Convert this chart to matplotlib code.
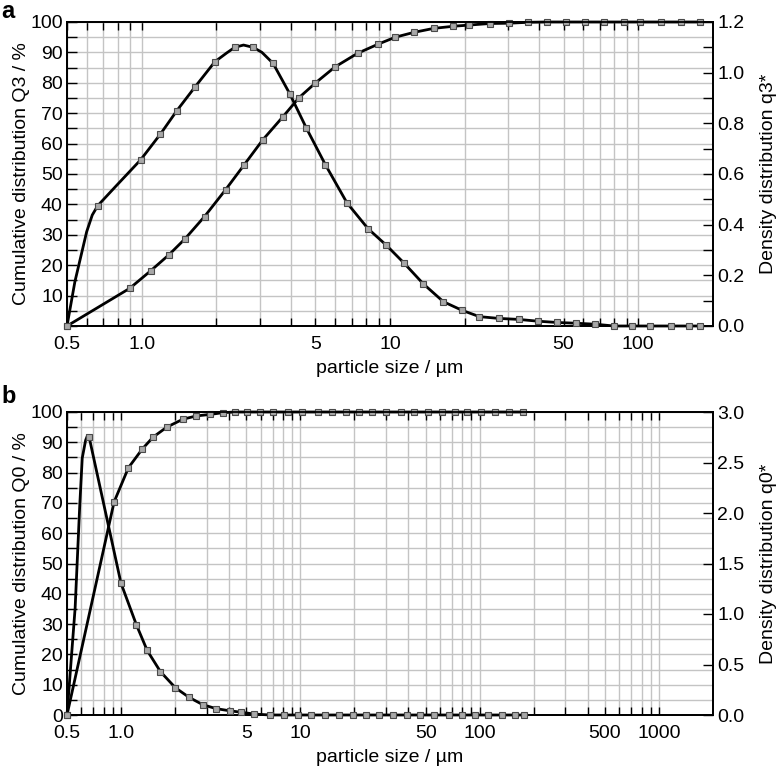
import numpy as np
import matplotlib
matplotlib.use("Agg")
import matplotlib.pyplot as plt
from matplotlib.ticker import FixedLocator, FixedFormatter, NullLocator, MultipleLocator, FormatStrFormatter

plt.rcParams['font.family'] = ['Liberation Sans', 'DejaVu Sans']

# ---------------- data ----------------
# Panel a: volume based (Q3 cumulative in %, q3* density)
a_cum_size = [0.5, 0.895, 1.088, 1.29, 1.495, 1.79, 2.18, 2.59, 3.07, 3.71, 4.3, 5.0, 6.0, 7.4,
              8.95, 10.5, 12.5, 15.0, 18.0, 20.9, 25.2, 30.1, 36.0, 42.7, 51.0, 61.3, 72.7, 87.5,
              102, 123, 148, 177]
a_Q3 = [0, 12.4, 18.2, 23.5, 28.7, 36.0, 44.9, 53.1, 61.2, 68.9, 75.1, 79.9, 85.2, 89.7,
        92.7, 95.0, 96.6, 97.9, 98.6, 99.0, 99.5, 99.6, 99.9, 100, 100, 100, 100, 100,
        100, 100, 100, 100]

a_dens_size = [0.5, 0.665, 0.99, 1.19, 1.385, 1.64, 1.97, 2.37, 2.81, 3.38, 3.95, 4.6, 5.49,
               6.71, 8.16, 9.66, 11.4, 13.6, 16.4, 19.5, 22.9, 27.4, 33.0, 39.4, 46.9, 55.9,
               67.2, 79.8, 94.6, 112, 135, 160, 177]
a_q3 = [0, 0.475, 0.656, 0.758, 0.850, 0.944, 1.043, 1.100, 1.100, 1.037, 0.916, 0.782, 0.637,
        0.486, 0.384, 0.319, 0.248, 0.167, 0.096, 0.062, 0.037, 0.030, 0.026, 0.019, 0.014, 0.011,
        0.007, 0.0, 0.0, 0.0, 0.0, 0.0, 0.0]
# extra points of the drawn curve (no marker)
a_q3_curve_size = [0.538, 0.6, 0.632, 0.78, 2.2, 2.57, 3.05]
a_q3_curve = [0.175, 0.372, 0.438, 0.548, 1.078, 1.109, 1.080]

# Panel b: number based (Q0 cumulative in %, q0* density)
b_cum_size = [0.5, 0.915, 1.10, 1.315, 1.51, 1.80, 2.21, 2.63, 3.14, 3.72, 4.34, 5.06, 5.97,
              7.05, 8.5, 10.2, 12.5, 15.0, 17.9, 21.2, 25.0, 29.9, 36.3, 42.8, 51.2, 61.3,
              72.4, 85.5, 102, 122, 146, 175]
b_Q0 = [0, 70.3, 81.6, 87.8, 91.7, 95.0, 97.6, 98.7, 99.2, 99.8, 100, 100, 100,
        100, 100, 100, 100, 100, 100, 100, 100, 100, 100, 100, 100, 100,
        100, 100, 100, 100, 100, 100]

b_dens_size = [0.5, 0.665, 1.0, 1.22, 1.40, 1.66, 2.01, 2.40, 2.86, 3.39, 4.03, 4.69, 5.55,
               6.81, 8.15, 9.67, 11.5, 13.7, 16.5, 19.6, 23.2, 27.3, 33.0, 39.2, 46.4, 55.5,
               67.3, 79.8, 94.7, 112, 134, 158, 176]
b_q0 = [0, 2.748, 1.305, 0.891, 0.639, 0.429, 0.270, 0.174, 0.102, 0.063, 0.042, 0.027, 0.009,
        0, 0, 0, 0, 0, 0, 0, 0, 0, 0, 0, 0, 0,
        0, 0, 0, 0, 0, 0, 0]
b_q0_curve_size = [0.555, 0.588, 0.608, 0.635, 0.651]
b_q0_curve = [1.059, 2.049, 2.544, 2.72, 2.769]

x_labels = {0.5: '0.5', 1: '1.0', 5: '5', 10: '10', 50: '50', 100: '100', 500: '500', 1000: '1000'}

# ---------------- drawing ----------------
W, H = 777, 766
FS = 14
fig = plt.figure(figsize=(W / 100, H / 100), dpi=100)

LINE_KW = dict(color='black', lw=2.0, solid_joinstyle='round', zorder=3, clip_on=False)
MARK_KW = dict(ls='none', marker='s', ms=4.0, mfc='#a8a8a8', mec='#4a4a4a', mew=0.8,
               zorder=4, clip_on=False)
GRID_C = '#c4c4c4'


def merged(xm, ym, xc, yc):
    x = np.concatenate([np.asarray(xm, float), np.asarray(xc, float)])
    y = np.concatenate([np.asarray(ym, float), np.asarray(yc, float)])
    o = np.argsort(x)
    return x[o], y[o]


def panel(rect, xmax, last_grid, cum_x, cum_y, dens_x, dens_y, cx, cy,
          dens_max, dens_major, dens_minor, left_label, right_label, letter, letter_y, show_zero):
    ax = fig.add_axes(rect)
    ax.set_xscale('log')
    ax.set_xlim(0.5, xmax)
    ax.set_ylim(0, 100)

    pos = [0.5]
    d = 0.1
    while d <= last_grid:
        for m in range(1, 10):
            v = round(m * d, 6)
            if 0.5 < v <= last_grid:
                pos.append(v)
        d *= 10
    pos = sorted(set(pos))
    labels = [x_labels.get(p, '') for p in pos]
    ax.xaxis.set_major_locator(FixedLocator(pos))
    ax.xaxis.set_major_formatter(FixedFormatter(labels))
    ax.xaxis.set_minor_locator(NullLocator())

    ylabs = ['' if (v == 0 and not show_zero) else str(v) for v in range(0, 101, 10)]
    ax.yaxis.set_major_locator(FixedLocator(list(range(0, 101, 10))))
    ax.yaxis.set_major_formatter(FixedFormatter(ylabs))
    ax.yaxis.set_minor_locator(MultipleLocator(5))

    ax.grid(True, which='major', axis='x', color=GRID_C, lw=1.0)
    ax.grid(True, which='both', axis='y', color=GRID_C, lw=1.0)
    ax.set_axisbelow(True)

    ax.tick_params(axis='x', which='both', direction='in', top=True, bottom=True,
                   length=6, width=1.0, labelsize=FS, pad=7, color='black')
    ax.tick_params(axis='y', which='both', direction='in', left=True, right=False,
                   length=7, width=1.0, labelsize=FS, pad=3)
    for s in ax.spines.values():
        s.set_linewidth(1.3)

    ax.set_xlabel('particle size / µm', fontsize=FS, labelpad=5)
    ax.set_ylabel(left_label, fontsize=FS, labelpad=0)

    ax.plot(cum_x, cum_y, **LINE_KW)
    ax.plot(cum_x, cum_y, **MARK_KW)

    ax2 = ax.twinx()
    ax2.set_ylim(0, dens_max)
    ax2.yaxis.set_major_locator(MultipleLocator(dens_major))
    if dens_minor:
        ax2.yaxis.set_minor_locator(MultipleLocator(dens_minor))
    else:
        ax2.yaxis.set_minor_locator(NullLocator())
    ax2.yaxis.set_major_formatter(FormatStrFormatter('%.1f'))
    ax2.tick_params(axis='y', which='both', direction='in', length=7, width=1.0,
                    labelsize=FS, pad=3)
    for s in ax2.spines.values():
        s.set_linewidth(1.3)
    ax2.set_ylabel(right_label, fontsize=FS, labelpad=11)
    lx, ly = merged(dens_x, dens_y, cx, cy)
    ax2.plot(lx, ly, **LINE_KW)
    ax2.plot(dens_x, dens_y, **MARK_KW)

    fig.text(1 / W, 1 - letter_y / H, letter, fontsize=17,
             fontweight='bold', va='top', ha='left')
    return ax, ax2


panel([67 / W, 1 - 326 / H, 646 / W, 304 / H], 200, 100,
      a_cum_size, a_Q3, a_dens_size, a_q3, a_q3_curve_size, a_q3_curve,
      1.2, 0.2, 0.1, 'Cumulative distribution Q3 / %', 'Density distribution q3*', 'a', 0, False)

panel([67 / W, 1 - 715 / H, 646 / W, 303 / H], 2000, 1000,
      b_cum_size, b_Q0, b_dens_size, b_q0, b_q0_curve_size, b_q0_curve,
      3.0, 0.5, None, 'Cumulative distribution Q0 / %', 'Density distribution q0*', 'b', 385, True)

fig.savefig('out.png', dpi=100)
